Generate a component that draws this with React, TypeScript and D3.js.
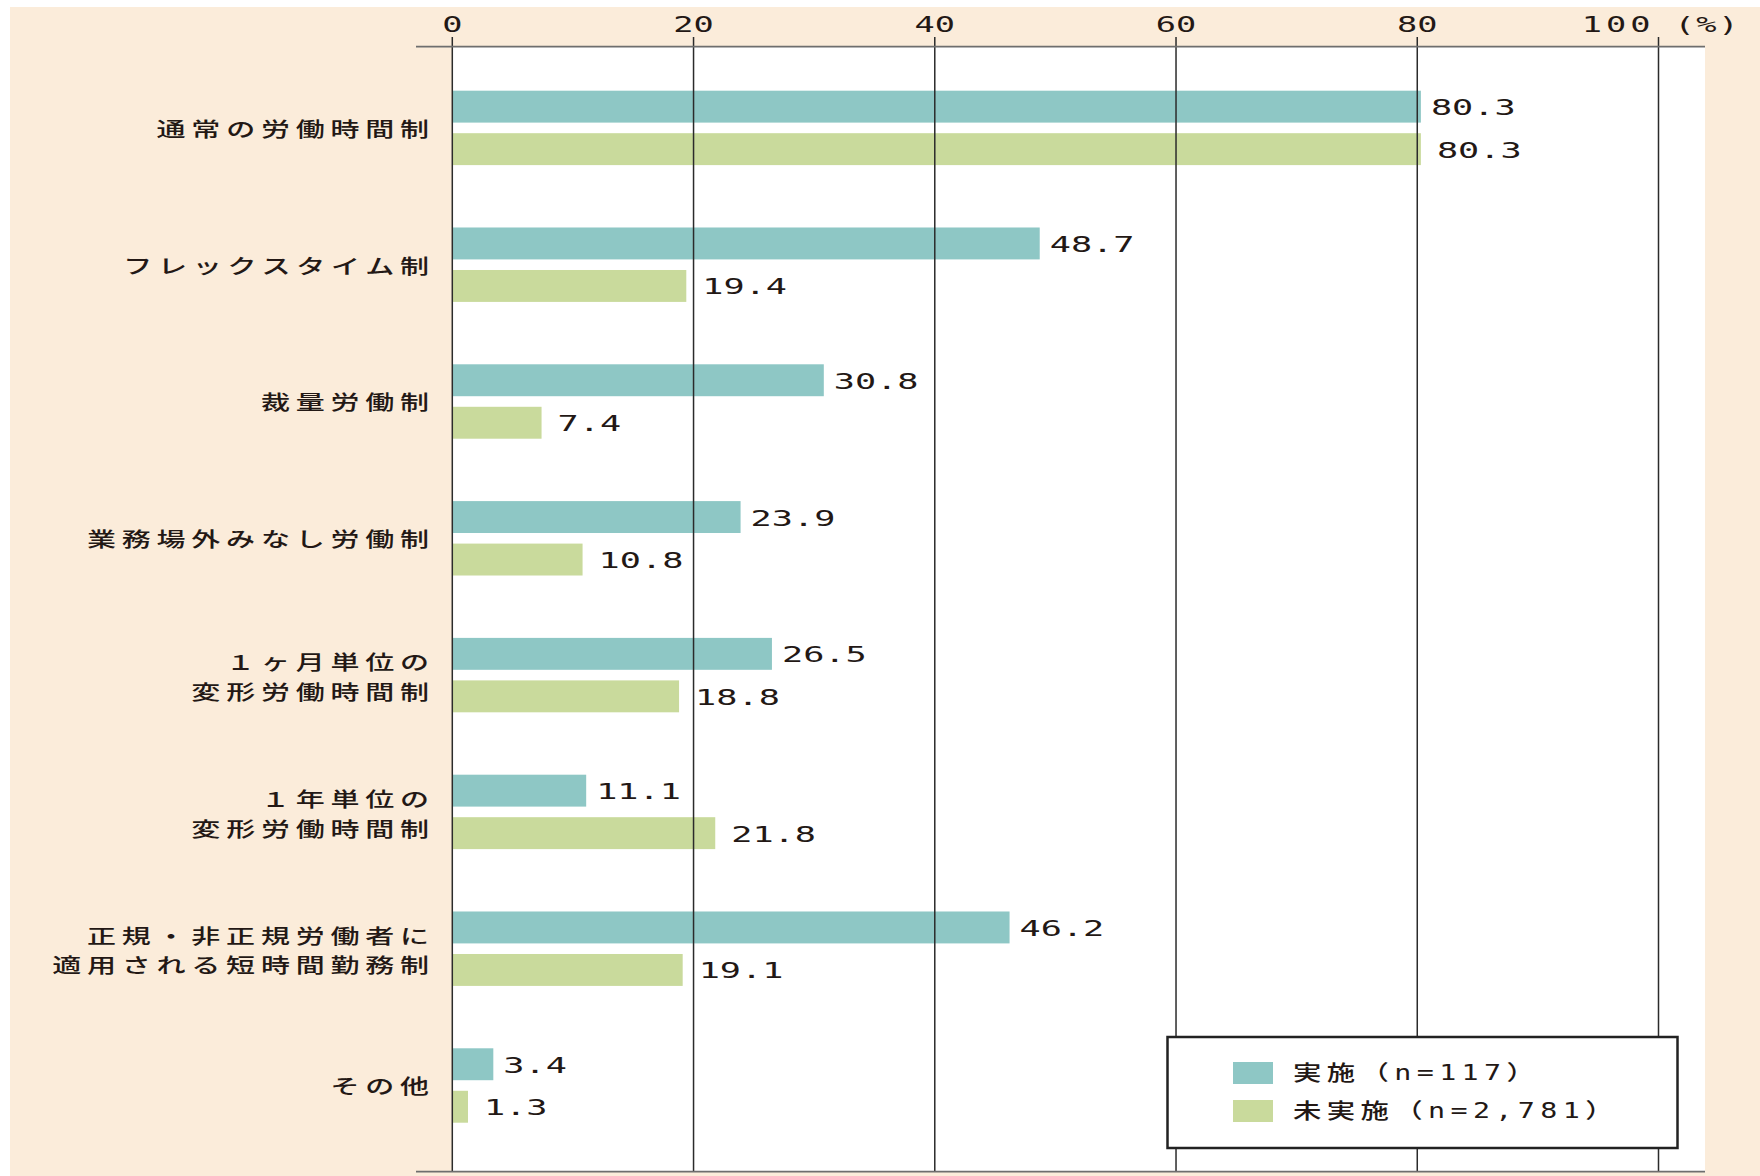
import React from "react";
import * as d3 from "d3";

const categories: string[][] = [
  ["通常の労働時間制"],
  ["フレックスタイム制"],
  ["裁量労働制"],
  ["業務場外みなし労働制"],
  ["１ヶ月単位の", "変形労働時間制"],
  ["１年単位の", "変形労働時間制"],
  ["正規・非正規労働者に", "適用される短時間勤務制"],
  ["その他"],
];
const implemented = [80.3, 48.7, 30.8, 23.9, 26.5, 11.1, 46.2, 3.4];
const notImplemented = [80.3, 19.4, 7.4, 10.8, 18.8, 21.8, 19.1, 1.3];
const seriesNames = ["実施（n=117）", "未実施（n=2,781）"];
const seriesKeys = ["impl", "notImpl"];
const xTicks = [0, 20, 40, 60, 80, 100];

const W = 1760;
const H = 1176;
const COLORS = ["#8ec7c5", "#c9da9c"];
const TEXT = "#231815";
const CJK = "'Noto Sans CJK JP', 'Noto Sans', sans-serif";
const MONO = "'DejaVu Sans Mono', monospace";

export default function App() {
  const catIdx = categories.map((_, i) => String(i));
  const x = d3.scaleLinear().domain([0, 100]).range([452.3, 1658.5]);
  const y0 = d3.scaleBand<string>().domain(catIdx).range([59.5, 1153.9]).padding(0);
  const y1 = d3
    .scaleBand<string>()
    .domain(seriesKeys)
    .range([0, y0.bandwidth()])
    .paddingInner(0.249)
    .paddingOuter(0.734);

  const plotLeft = x(0);
  const plotRight = 1705;
  const axisY = 46.7;
  const bottomY = 1171.7;
  const values = [implemented, notImplemented];

  const catScale = 1.45;
  const catLs = 4;
  const numScale = 1.6;

  return (
    <svg
      width={W}
      height={H}
      style={{ position: "absolute", left: 0, top: 0, display: "block" }}
    >
      <rect x={0} y={0} width={W} height={H} fill="#ffffff" />
      <rect x={10} y={7} width={W - 10} height={H - 7} fill="#fbecda" />
      <rect
        x={plotLeft}
        y={axisY}
        width={plotRight - plotLeft}
        height={bottomY - axisY}
        fill="#ffffff"
      />

      {/* bars */}
      {catIdx.map((c, i) =>
        seriesKeys.map((k, s) => (
          <rect
            key={c + k}
            x={x(0)}
            y={(y0(c) as number) + (y1(k) as number)}
            width={x(values[s][i]) - x(0)}
            height={y1.bandwidth()}
            fill={COLORS[s]}
          />
        ))
      )}

      {/* gridlines */}
      {xTicks.map((t) => (
        <line
          key={"g" + t}
          x1={x(t)}
          x2={x(t)}
          y1={37}
          y2={bottomY}
          stroke="#2b2b2b"
          strokeWidth={1.5}
        />
      ))}
      <line x1={416} x2={plotRight} y1={axisY} y2={axisY} stroke="#6e6e6e" strokeWidth={1.8} />
      <line x1={416} x2={plotRight} y1={bottomY} y2={bottomY} stroke="#6e6e6e" strokeWidth={1.8} />

      {/* tick labels */}
      {xTicks.map((t) => {
        const last = t === xTicks[xTicks.length - 1];
        return (
          <text
            key={"t" + t}
            transform={`translate(${last ? x(t) - 4 : x(t)},32) scale(${numScale},1)`}
            textAnchor={last ? "end" : "middle"}
            fontFamily={MONO}
            fontSize={21}
            letterSpacing={last ? 2.5 : 0}
            fill={TEXT}
          >
            {String(t)}
          </text>
        );
      })}
      <text
        transform={`translate(${x(100) + 16},32) scale(${numScale},1)`}
        fontFamily={MONO}
        fontSize={21}
        letterSpacing={1}
        fill={TEXT}
      >
        (%)
      </text>

      {/* value labels */}
      {catIdx.map((c, i) =>
        seriesKeys.map((k, s) => {
          const v = values[s][i];
          const cy = (y0(c) as number) + (y1(k) as number) + y1.bandwidth() / 2 + 1;
          return (
            <text
              key={"v" + c + k}
              transform={`translate(${x(v) + (s === 0 ? 10 : 16)},${cy}) scale(${numScale},1)`}
              fontFamily={MONO}
              fontSize={22}
              dominantBaseline="central"
              fill={TEXT}
            >
              {v.toFixed(1)}
            </text>
          );
        })
      )}

      {/* category labels */}
      {catIdx.map((c, i) => {
        const lines = categories[i];
        const cy = (y0(c) as number) + y0.bandwidth() / 2;
        return lines.map((ln, j) => {
          const off = lines.length === 1 ? 0 : (j === 0 ? -14.8 : 14.8) + 1;
          return (
            <text
              key={"c" + c + j}
              transform={`translate(${429 + catLs * catScale},${cy + off}) scale(${catScale},1)`}
              textAnchor="end"
              dominantBaseline="central"
              fontFamily={CJK}
              fontSize={20}
              fontWeight={500}
              letterSpacing={catLs}
              fill={TEXT}
            >
              {ln}
            </text>
          );
        });
      })}

      {/* legend */}
      <rect x={1167.5} y={1037} width={510} height={111} fill="#ffffff" stroke="#222" strokeWidth={2.5} />
      {seriesNames.map((name, s) => (
        <g key={"l" + s}>
          <rect x={1233} y={1062 + s * 38} width={40} height={22} fill={COLORS[s]} />
          <text
            transform={`translate(1293,${1073 + s * 38}) scale(1.35,1)`}
            dominantBaseline="central"
            fontFamily={`'DejaVu Sans Mono', ${CJK}`}
            fontSize={21}
            fontWeight={500}
            letterSpacing={4}
            fill={TEXT}
          >
            {name}
          </text>
        </g>
      ))}
    </svg>
  );
}
